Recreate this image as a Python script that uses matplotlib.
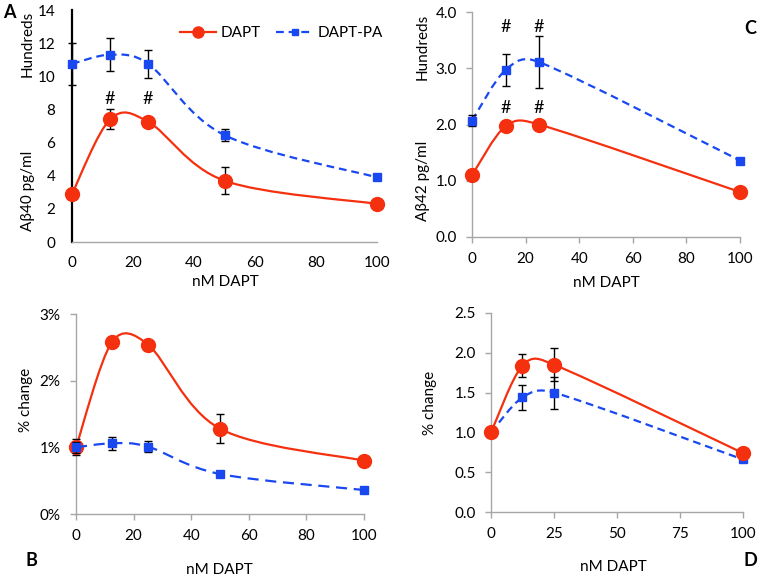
import numpy as np
import matplotlib
matplotlib.use("Agg")
import matplotlib.pyplot as plt
from matplotlib.path import Path
from matplotlib.patches import PathPatch
from matplotlib.lines import Line2D
from matplotlib.ticker import FuncFormatter

plt.rcParams['font.family'] = ['Lato', 'DejaVu Sans']
plt.rcParams['font.size'] = 11

RED = '#F5300F'
BLUE = '#1A48F0'
GRAY = '#A6A6A6'

# panel A: Abeta40 (hundreds pg/ml)
dose5 = [0, 12.5, 25, 50, 100]
a_dapt = [2.9, 7.4, 7.25, 3.7, 2.3]
a_dapt_err = [0, 0.6, 0, 0.8, 0]
a_pa = [10.75, 11.3, 10.75, 6.45, 3.9]
a_pa_err = [1.25, 1.0, 0.85, 0.35, 0.1]

# panel C: Abeta42 (hundreds pg/ml)
dose4 = [0, 12.5, 25, 100]
c_dapt = [1.1, 1.97, 2.0, 0.8]
c_dapt_err = [0, 0, 0, 0]
c_pa = [2.07, 2.97, 3.11, 1.36]
c_pa_err = [0.1, 0.29, 0.46, 0.05]

# panel B: % change Abeta40
b_dapt = [1.0, 2.58, 2.54, 1.28, 0.8]
b_dapt_err = [0.12, 0.08, 0.03, 0.22, 0]
b_pa = [1.0, 1.06, 1.01, 0.6, 0.36]
b_pa_err = [0.08, 0.1, 0.08, 0.03, 0.03]

# panel D: % change Abeta42
d_dapt = [1.0, 1.84, 1.85, 0.74]
d_dapt_err = [0, 0.15, 0.21, 0.02]
d_pa = [1.0, 1.44, 1.5, 0.66]
d_pa_err = [0, 0.16, 0.2, 0.02]

W, H = 761, 579
fig = plt.figure(figsize=(W / 100, H / 100), dpi=100)


def px_axes(l, r, t, b):
    return fig.add_axes([l / W, 1 - b / H, (r - l) / W, (b - t) / H])


def smooth_path(ax, x, y):
    # excel-style smoothed line, bezier control points worked out in pixel space
    x0, x1 = ax.get_xlim()
    y0, y1 = ax.get_ylim()
    bb = ax.get_position()
    sx = bb.width * W / (x1 - x0)
    sy = bb.height * H / (y1 - y0)
    pts = np.column_stack([np.asarray(x, float) * sx, np.asarray(y, float) * sy])
    n = len(pts)
    verts = [pts[0]]
    codes = [Path.MOVETO]
    for i in range(n - 1):
        p0 = pts[max(i - 1, 0)]
        p1 = pts[i]
        p2 = pts[i + 1]
        p3 = pts[min(i + 2, n - 1)]
        d12 = np.hypot(*(p2 - p1))
        d02 = np.hypot(*(p2 - p0))
        d13 = np.hypot(*(p3 - p1))
        f0 = 1 / 6 if d02 / 6 < d12 / 2 else d12 / 2 / d02
        f1 = 1 / 6 if d13 / 6 < d12 / 2 else d12 / 2 / d13
        verts += [p1 + (p2 - p0) * f0, p2 - (p3 - p1) * f1, p2]
        codes += [Path.CURVE4] * 3
    verts = np.array(verts) / [sx, sy]
    return Path(verts, codes)


def series(ax, x, y, err, kind, z, dash=(3.5, 2.2)):
    if kind == 'dapt':
        ax.add_patch(PathPatch(smooth_path(ax, x, y), fill=False, color=RED, lw=1.6,
                               zorder=z, clip_on=False))
        ax.errorbar(x, y, yerr=err, fmt='none', ecolor='black', elinewidth=1,
                    capsize=3, zorder=z + 0.5, clip_on=False)
        ax.plot(x, y, 'o', color=RED, ms=10, zorder=z + 1, clip_on=False)
    else:
        ax.add_patch(PathPatch(smooth_path(ax, x, y), fill=False, color=BLUE, lw=1.6,
                               linestyle=(0, dash), zorder=z, clip_on=False))
        ax.errorbar(x, y, yerr=err, fmt='none', ecolor='black', elinewidth=1,
                    capsize=3, zorder=z + 0.5, clip_on=False)
        ax.plot(x, y, 's', color=BLUE, ms=6, zorder=z + 1, clip_on=False)


def style(ax, ticks=True):
    for s in ['top', 'right']:
        ax.spines[s].set_visible(False)
    for s in ['left', 'bottom']:
        ax.spines[s].set_color(GRAY)
        ax.spines[s].set_linewidth(1)
    if ticks:
        ax.tick_params(direction='out', length=4, width=1, color=GRAY, pad=7,
                       labelsize=11)
    else:
        ax.tick_params(length=0, labelsize=11)
        ax.tick_params(axis='y', pad=12)
        ax.tick_params(axis='x', pad=10)


# ---- A ----
axA = px_axes(72, 377, 10, 242)
axA.set_xlim(0, 100)
axA.set_ylim(0, 14)
series(axA, dose5, a_dapt, a_dapt_err, 'dapt', 3)
series(axA, dose5, a_pa, a_pa_err, 'pa', 3)
axA.set_xticks([0, 20, 40, 60, 80, 100])
axA.set_yticks(range(0, 15, 2))
style(axA, ticks=False)
axA.spines['left'].set_color('black')
axA.spines['left'].set_linewidth(1.6)
for xx in [12.5, 25]:
    axA.text(xx, 8.6, '#', ha='center', va='center', fontsize=13)
handles = [Line2D([], [], color=RED, lw=1.6, marker='o', ms=8),
           Line2D([], [], color=BLUE, lw=1.6, ls=(0, (3.5, 2.2)), marker='s', ms=5)]
axA.legend(handles, ['DAPT', 'DAPT-PA'], loc='upper right', ncol=2, frameon=False,
           bbox_to_anchor=(1.065, 0.99), handlelength=2.4, columnspacing=1.0,
           handletextpad=0.3, fontsize=11)

# ---- C ----
axC = px_axes(472, 740, 12, 237)
axC.set_xlim(0, 100)
axC.set_ylim(0, 4)
series(axC, dose4, c_dapt, c_dapt_err, 'dapt', 3)
series(axC, dose4, c_pa, c_pa_err, 'pa', 3)
axC.set_xticks([0, 20, 40, 60, 80, 100])
axC.set_yticks(np.arange(0, 4.01, 1.0))
axC.yaxis.set_major_formatter(FuncFormatter(lambda v, p: f'{v:.1f}'))
style(axC)
for xx in [12.5, 25]:
    axC.text(xx, 3.73, '#', ha='center', va='center', fontsize=13)
    axC.text(xx, 2.29, '#', ha='center', va='center', fontsize=13)

# ---- B ----
axB = px_axes(76, 364, 314, 514)
axB.set_xlim(0, 100)
axB.set_ylim(0, 3)
series(axB, dose5, b_dapt, b_dapt_err, 'dapt', 3)
series(axB, dose5, b_pa, b_pa_err, 'pa', 5, dash=(5, 3))
axB.set_xticks([0, 20, 40, 60, 80, 100])
axB.set_yticks([0, 1, 2, 3])
axB.yaxis.set_major_formatter(FuncFormatter(lambda v, p: f'{v:.0f}%'))
style(axB)

# ---- D ----
axD = px_axes(491, 743, 313, 512)
axD.set_xlim(0, 100)
axD.set_ylim(0, 2.5)
series(axD, dose4, d_dapt, d_dapt_err, 'dapt', 5)
series(axD, dose4, d_pa, d_pa_err, 'pa', 3)
axD.set_xticks([0, 25, 50, 75, 100])
axD.set_yticks(np.arange(0, 2.51, 0.5))
axD.yaxis.set_major_formatter(FuncFormatter(lambda v, p: f'{v:.1f}'))
style(axD)


def ftext(x, y, s, **kw):
    fig.text(x / W, 1 - y / H, s, ha='center', va='center', **kw)


# axis titles
ftext(225, 282, 'nM DAPT', fontsize=11)
ftext(606, 283, 'nM DAPT', fontsize=11)
ftext(219, 570, 'nM DAPT', fontsize=11)
ftext(613, 567, 'nM DAPT', fontsize=11)
ftext(28, 44, 'Hundreds', rotation=90, fontsize=11)
ftext(28, 191, 'Aβ40 pg/ml', rotation=90, fontsize=11)
ftext(423, 47, 'Hundreds', rotation=90, fontsize=11)
ftext(423, 181, 'Aβ42 pg/ml', rotation=90, fontsize=11)
ftext(26, 400, '% change', rotation=90, fontsize=11)
ftext(430, 403, '% change', rotation=90, fontsize=11)

# panel letters
ftext(9, 12, 'A', fontsize=13, fontweight='bold')
ftext(750, 29, 'C', fontsize=13, fontweight='bold')
ftext(31, 561, 'B', fontsize=13, fontweight='bold')
ftext(750, 561, 'D', fontsize=13, fontweight='bold')

fig.savefig('out.png', dpi=100)
